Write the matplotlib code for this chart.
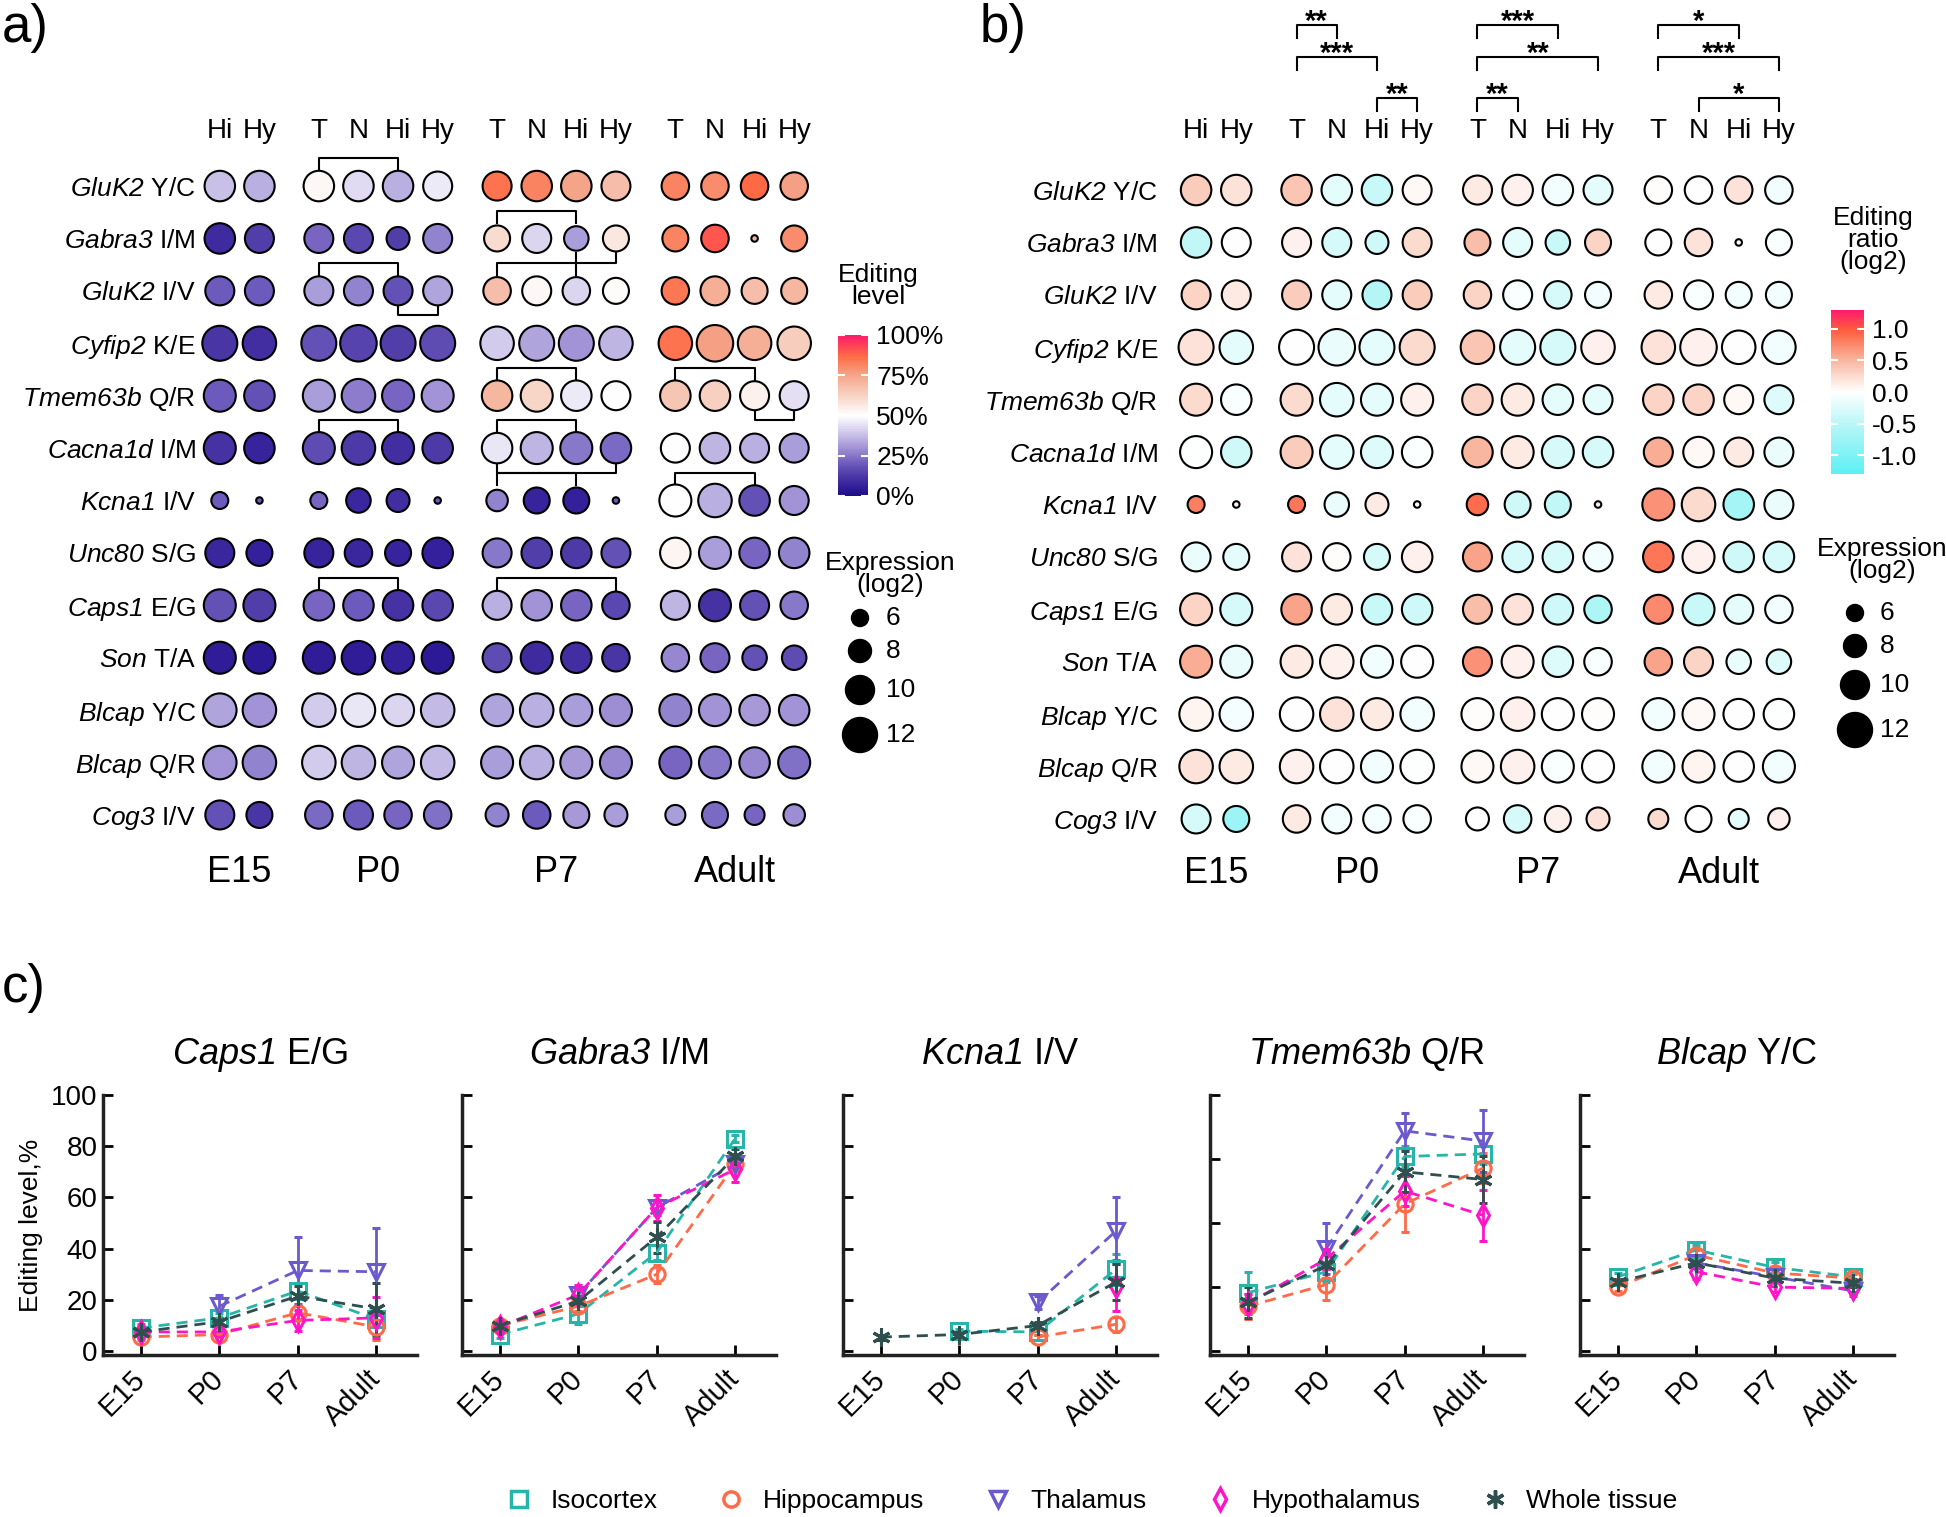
import numpy as np
import matplotlib.pyplot as plt
from matplotlib.colors import LinearSegmentedColormap
from matplotlib.lines import Line2D

plt.rcParams['font.family'] = 'Liberation Sans'
plt.rcParams['mathtext.fontset'] = 'custom'
plt.rcParams['mathtext.it'] = 'Liberation Sans:italic'
plt.rcParams['mathtext.rm'] = 'Liberation Sans:italic'

nan = np.nan

# ---- panels a/b data ----
genes = ['GluK2', 'Gabra3', 'GluK2', 'Cyfip2', 'Tmem63b', 'Cacna1d', 'Kcna1',
         'Unc80', 'Caps1', 'Son', 'Blcap', 'Blcap', 'Cog3']
sites = ['Y/C', 'I/M', 'I/V', 'K/E', 'Q/R', 'I/M', 'I/V',
         'S/G', 'E/G', 'T/A', 'Y/C', 'Q/R', 'I/V']
stages = ['E15', 'P0', 'P7', 'Adult']
stage_regions = [['Hi', 'Hy'], ['T', 'N', 'Hi', 'Hy'], ['T', 'N', 'Hi', 'Hy'], ['T', 'N', 'Hi', 'Hy']]

# expression (log2), columns: E15 Hi Hy | P0 T N Hi Hy | P7 T N Hi Hy | Adult T N Hi Hy
expression = [
    [10.5, 10.5, 10.5, 10.5, 10.5, 10, 10, 10.5, 10.5, 10, 9.5, 9.5, 9.5, 9.5],
    [10.5, 10, 10, 10, 8, 10, 9, 10, 8.5, 9, 9, 9.5, 2.5, 9],
    [10, 10, 10, 10, 10, 10, 9.5, 10, 9.5, 9, 9.5, 10, 9, 9],
    [12, 11.5, 12, 12.5, 12, 12, 11.5, 12, 12, 11.5, 11.5, 12.5, 11.5, 11.5],
    [11, 10.5, 11, 11.5, 11, 11, 10.5, 11, 10.5, 10, 10.5, 10.5, 10, 10],
    [11, 10.5, 11, 11.5, 11, 10.5, 10.5, 11, 11, 10.5, 10, 10.5, 10, 10],
    [6, 2.5, 6, 8.5, 8, 2.5, 7.5, 9, 9, 2.5, 11, 11.5, 10.5, 10],
    [10, 9, 10, 9.5, 9, 10.5, 10, 10.5, 10.5, 10, 10.5, 11, 10.5, 10.5],
    [11, 11, 10.5, 10.5, 10.5, 10.5, 10, 10.5, 10.5, 9.5, 10, 11, 10, 9.5],
    [11, 11, 11, 11.5, 11, 11, 10, 11, 10.5, 9.5, 9.5, 10, 8.5, 8.5],
    [11.5, 11.5, 11.5, 11.5, 11, 11.5, 11, 11.5, 11, 11, 11, 11, 10.5, 10.5],
    [11.5, 11.5, 11.5, 11.5, 11, 11.5, 11, 11.5, 11, 11, 11, 11, 10.5, 11],
    [10, 9, 9.5, 10, 9.5, 9.5, 8, 9.5, 9, 8, 7, 9, 7, 7.5],
]

# editing level (%)
editing_level = [
    [38, 35, 52, 43, 35, 46, 85, 82, 75, 68, 82, 80, 87, 76],
    [9, 14, 22, 16, 14, 27, 60, 42, 32, 57, 82, 90, 70, 80],
    [20, 20, 32, 27, 18, 33, 68, 52, 42, 51, 84, 72, 68, 70],
    [12, 10, 18, 15, 14, 17, 40, 33, 30, 36, 85, 76, 72, 64],
    [20, 18, 32, 26, 22, 30, 70, 62, 46, 50, 66, 63, 54, 44],
    [11, 7, 17, 13, 10, 13, 45, 36, 25, 23, 50, 36, 35, 32],
    [20, 20, 22, 8, 10, 20, 27, 7, 6, 20, 50, 35, 18, 30],
    [8, 6, 7, 8, 7, 6, 25, 14, 13, 18, 53, 32, 22, 27],
    [18, 14, 22, 20, 11, 16, 35, 30, 22, 16, 36, 11, 18, 25],
    [5, 4, 5, 5, 6, 4, 17, 9, 10, 12, 28, 22, 18, 17],
    [33, 30, 40, 45, 42, 37, 33, 35, 32, 29, 27, 30, 31, 30],
    [30, 27, 40, 36, 33, 37, 32, 35, 31, 28, 22, 25, 28, 24],
    [18, 12, 23, 20, 22, 24, 27, 20, 31, 32, 32, 23, 22, 29],
]

# editing ratio (log2)
editing_ratio = [
    [0.35, 0.2, 0.4, -0.2, -0.4, 0.05, 0.15, 0.1, -0.1, -0.2, 0.02, 0.0, 0.2, -0.1],
    [-0.45, 0.0, 0.1, -0.3, -0.35, 0.25, 0.45, -0.2, -0.4, 0.3, 0.0, 0.2, 0.0, -0.05],
    [0.3, 0.15, 0.35, -0.2, -0.55, 0.35, 0.3, -0.05, -0.3, -0.1, 0.15, -0.05, -0.1, -0.1],
    [0.2, -0.2, 0.0, -0.15, -0.2, 0.25, 0.4, -0.2, -0.3, 0.1, 0.2, 0.1, 0.0, -0.1],
    [0.25, -0.05, 0.25, -0.2, -0.2, 0.1, 0.3, 0.15, -0.2, -0.2, 0.3, 0.3, 0.05, -0.25],
    [-0.02, -0.35, 0.35, -0.2, -0.25, -0.03, 0.5, 0.15, -0.3, -0.3, 0.55, 0.05, 0.15, -0.15],
    [0.8, 0.1, 0.85, -0.15, 0.15, 0.0, 0.9, -0.35, -0.45, 0.1, 0.7, 0.25, -0.7, -0.15],
    [-0.15, -0.2, 0.2, 0.02, -0.3, 0.1, 0.6, -0.3, -0.3, -0.1, 0.85, 0.1, -0.35, -0.3],
    [0.3, -0.3, 0.6, 0.15, -0.4, -0.35, 0.45, 0.2, -0.35, -0.6, 0.75, -0.4, -0.2, -0.1],
    [0.55, -0.15, 0.15, 0.1, -0.1, 0.0, 0.7, 0.1, -0.25, -0.05, 0.6, 0.3, -0.15, -0.25],
    [0.08, -0.08, 0.0, 0.2, 0.15, -0.1, 0.02, 0.1, 0.0, 0.02, -0.1, 0.05, 0.0, -0.02],
    [0.2, 0.15, 0.1, 0.0, -0.1, -0.02, 0.05, 0.1, -0.05, 0.0, -0.1, 0.08, 0.0, -0.1],
    [-0.3, -0.75, 0.15, -0.1, -0.08, -0.05, 0.0, -0.3, 0.1, 0.2, 0.25, 0.0, -0.2, 0.1],
]

# significance brackets: (row, from col, to col, side)
a_brackets = [(0, 2, 4, 'up'), (1, 6, 8, 'up'), (1, 8, 9, 'down'),
              (2, 2, 4, 'up'), (2, 4, 5, 'down'), (2, 6, 8, 'up'),
              (4, 6, 8, 'up'), (4, 10, 12, 'up'), (4, 12, 13, 'down'),
              (5, 2, 4, 'up'), (5, 6, 8, 'up'), (5, 6, 9, 'down'),
              (6, 6, 8, 'up'), (6, 10, 12, 'up'),
              (8, 2, 4, 'up'), (8, 6, 9, 'up')]
# (from col, to col, level, stars)
b_brackets = [(2, 3, 1, '**'), (2, 4, 2, '***'), (4, 5, 3, '**'),
              (6, 8, 1, '***'), (6, 9, 2, '**'), (6, 7, 3, '**'),
              (10, 12, 1, '*'), (10, 13, 2, '***'), (11, 13, 3, '*')]

legend_expr = [6, 8, 10, 12]

# ---- panel c data ----
c_genes = ['Caps1', 'Gabra3', 'Kcna1', 'Tmem63b', 'Blcap']
c_sites = ['E/G', 'I/M', 'I/V', 'Q/R', 'Y/C']
c_ytick_step = [20, 20, 20, 25, 20]
regions = ['Isocortex', 'Hippocampus', 'Thalamus', 'Hypothalamus', 'Whole tissue']

iso_mean = [[9, 13, 23.5, 12.5], [6.5, 14.5, 38.5, 83], [nan, 7.8, 7.5, 32], [22.8, 31, 76, 77], [29, 39.5, 32.7, 29]]
iso_err = [[1.5, 2, 3, 2], [1.5, 4, 3, 1.5], [nan, 1, 1, 6], [8, 4, 4, 4], [1.5, 2, 2, 1.5]]
hippo_mean = [[5.5, 6.5, 15, 9.5], [10, 17.5, 30, 73], [nan, nan, 5.5, 10.5], [17.5, 26, 57.5, 71.5], [25, 37.5, 30.5, 28.5]]
hippo_err = [[1, 1, 2.5, 5], [1, 2, 3.5, 2], [nan, nan, 1, 3], [5, 6, 11, 6], [1.5, 2, 2, 1.5]]
thal_mean = [[nan, 17.5, 31.5, 31], [nan, 22, 56, 73], [nan, nan, 19, 47], [nan, 40, 86, 82], [nan, 34.5, 29, 23.5]]
thal_err = [[nan, 4.5, 13, 17], [nan, 3, 3, 2], [nan, nan, 2.5, 13], [nan, 10, 7, 12], [nan, 2, 2, 2]]
hypo_mean = [[7.5, 7.5, 12, 13], [9.5, 22, 56, 71], [nan, nan, nan, 25.5], [18.5, 36, 62.5, 53], [nan, 31, 25, 24.5]]
hypo_err = [[1, 1.5, 4, 8], [1, 4, 5, 5], [nan, nan, nan, 10], [4, 4, 6, 10], [nan, 3, 2, 1.5]]
whole_mean = [[7.5, 11.5, 21.5, 16.5], [10, 19.5, 44.5, 76], [5.5, 6.5, 10, 27], [19, 33.5, 70, 67], [27, 34.5, 28.5, 26.5]]
whole_err = [[1, 1.5, 4, 10], [1, 2, 6, 3], [1, 1, 1.5, 7], [6, 5, 8, 9], [1, 2, 1.5, 1.5]]

# ---- figure ----
W, H = 1946, 1517
fig = plt.figure(figsize=(W / 100, H / 100), dpi=100)


def px_axes(left, top, right, bottom):
    return fig.add_axes([left / W, 1 - bottom / H, (right - left) / W, (bottom - top) / H])


def dot_area(e):
    d = (3 * np.asarray(e, float) - 1) * 0.72
    return d ** 2


level_cmap = LinearSegmentedColormap.from_list('level', [
    (0.0, '#1c0c88'), (0.05, '#311d98'), (0.12, '#4a36a4'), (0.2, '#6c5abc'),
    (0.3, '#a294d6'), (0.4, '#d2cbec'), (0.5, '#ffffff'), (0.6, '#f8dcd0'),
    (0.75, '#f4a58a'), (0.87, '#ff6a45'), (1.0, '#ff1a6a')])
ratio_cmap = LinearSegmentedColormap.from_list('ratio', [
    (0.0, '#5cf0f4'), (0.3, '#b8f6f6'), (0.5, '#ffffff'), (0.7, '#f8b49c'),
    (0.88, '#ff5c3c'), (1.0, '#ff1a6e')])

col_x, col_names, group_centers = [], [], []
for g, regs in enumerate(stage_regions):
    start = g * 4.5 + 4 - len(regs)
    xs = [start + k for k in range(len(regs))]
    col_x += xs
    col_names += regs
    group_centers.append(np.mean(xs))
col_x = np.array(col_x)

row_labels = [r'$\mathit{%s}$ %s' % (g, s) for g, s in zip(genes, sites)]


def dot_panel(ax, values, cmap, vmin, vmax, label_pad, header_y, stage_y):
    xx, yy = np.meshgrid(col_x, np.arange(len(genes)))
    sc = ax.scatter(xx.ravel(), yy.ravel(), s=dot_area(expression).ravel(),
                    c=np.asarray(values, float).ravel(), cmap=cmap, vmin=vmin, vmax=vmax,
                    edgecolors='black', linewidths=1.5, zorder=3, clip_on=False)
    ax.set_xlim(1.5, 17.0)
    ax.set_ylim(12.6, -0.6)
    ax.set_yticks(range(len(genes)))
    ax.set_yticklabels(row_labels, fontsize=19)
    ax.set_xticks([])
    ax.tick_params(axis='y', length=0, pad=label_pad)
    for sp in ax.spines.values():
        sp.set_visible(False)
    for x, n in zip(col_x, col_names):
        ax.text(x, header_y, n, ha='center', va='center', fontsize=20)
    for x, st in zip(group_centers, stages):
        ax.text(x, stage_y, st, ha='center', va='center', fontsize=26)
    return sc


# panel a
ax_a = px_axes(200, 154.6, 814, 846.4)
sc_a = dot_panel(ax_a, editing_level, level_cmap, 0, 100, 3, -1.05, 13.1)
for row, c0, c1, side in a_brackets:
    x0, x1 = col_x[c0], col_x[c1]
    if side == 'up':
        yb, yt = row - 0.3, row - 0.53
    else:
        yb, yt = row + 0.27, row + 0.47
    ax_a.plot([x0, x0, x1, x1], [yb, yt, yt, yb], color='black', lw=1.5, clip_on=False)

# panel b
ax_b = px_axes(1176, 158.6, 1799, 850.4)
sc_b = dot_panel(ax_b, editing_ratio, ratio_cmap, -1.3, 1.3, 13, -1.12, 13.05)
level_y = {1: -3.15, 2: -2.54, 3: -1.76}
for c0, c1, lev, stars in b_brackets:
    x0, x1 = col_x[c0], col_x[c1]
    y = level_y[lev]
    ax_b.plot([x0, x0, x1, x1], [y + 0.25, y, y, y + 0.25], color='black', lw=1.5, clip_on=False)
    ax_b.text((x0 + x1) / 2, y - 0.05, stars, ha='center', va='center', fontsize=21,
              fontweight='bold')

# colorbars
cax_a = px_axes(838, 335, 868, 496)
cb_a = fig.colorbar(sc_a, cax=cax_a, ticks=[0, 25, 50, 75, 100])
cb_a.ax.set_yticklabels(['0%', '25%', '50%', '75%', '100%'], fontsize=19)
cax_b = px_axes(1831, 310, 1864, 474)
cb_b = fig.colorbar(sc_b, cax=cax_b, ticks=[-1, -0.5, 0, 0.5, 1])
cb_b.ax.set_yticklabels(['-1.0', '-0.5', '0.0', '0.5', '1.0'], fontsize=19)
for cb in (cb_a, cb_b):
    cb.outline.set_visible(False)
    cb.ax.tick_params(color='white', direction='in', length=5, width=1.5,
                      left=True, right=True, pad=6)

# overlay in pixel coordinates for legend texts and panel letters
ov = fig.add_axes([0, 0, 1, 1])
ov.set_xlim(0, W)
ov.set_ylim(H, 0)
ov.axis('off')

ov.text(878, 286, 'Editing\nlevel', ha='center', va='center', fontsize=19, linespacing=0.9)
ov.text(890, 574, 'Expression\n(log2)', ha='center', va='center', fontsize=19, linespacing=0.9)
ov.text(1873, 240, 'Editing\nratio\n(log2)', ha='center', va='center', fontsize=19, linespacing=0.9)
ov.text(1882, 560, 'Expression\n(log2)', ha='center', va='center', fontsize=19, linespacing=0.9)


def legend_dots(x, y0, xt):
    d = 3 * np.array(legend_expr, float) - 1
    ys = y0 + np.concatenate([[0], np.cumsum((d[:-1] + d[1:]) / 2 + 13)])
    ov.scatter(np.full(len(ys), x), ys, s=dot_area(legend_expr), c='black')
    for y, e in zip(ys, legend_expr):
        ov.text(xt, y, str(e), ha='left', va='center', fontsize=19)


legend_dots(860, 618, 886)
legend_dots(1855, 613, 1880)

ov.text(2, 28, 'a)', fontsize=38, va='center', ha='left')
ov.text(980, 28, 'b)', fontsize=38, va='center', ha='left')
ov.text(2, 988, 'c)', fontsize=38, va='center', ha='left')

# panel c
styles = [
    ('#26b5a8', 's', iso_mean, iso_err, 11),
    ('#ff6a48', 'o', hippo_mean, hippo_err, 11),
    ('#6a5acd', 'v', thal_mean, thal_err, 11),
    ('#ff14c8', 'd', hypo_mean, hypo_err, 11),
    ('#2f4f4f', (6, 2, 0), whole_mean, whole_err, 13),
]
c_left = [103, 462, 843, 1210, 1580]
stage_x = np.arange(len(stages))
for i, left in enumerate(c_left):
    ax = px_axes(left, 1095, left + 314, 1355)
    for color, marker, mean, err, ms in styles:
        ax.errorbar(stage_x, mean[i], yerr=err[i], color=color, marker=marker, ms=ms,
                    mfc='none', mew=2.2, ls=(0, (4, 2.5)), lw=2, elinewidth=2, capsize=3,
                    capthick=2)
    ax.set_xlim(-0.48, 3.52)
    ax.set_ylim(-1.5, 100)
    ax.set_yticks(np.arange(0, 101, c_ytick_step[i]))
    ax.set_xticks(stage_x)
    ax.set_xticklabels(stages, rotation=45, ha='right', va='center', rotation_mode='anchor',
                       fontsize=21)
    ax.tick_params(direction='in', length=7, width=2, pad=14)
    ax.tick_params(axis='y', pad=4, labelsize=20)
    if i == 0:
        ax.set_ylabel('Editing level,%', fontsize=19, labelpad=6)
    else:
        ax.set_yticklabels([])
    for sp in ['top', 'right']:
        ax.spines[sp].set_visible(False)
    for sp in ['left', 'bottom']:
        ax.spines[sp].set_linewidth(2.5)
        ax.spines[sp].set_color('#222222')
    ax.set_title(r'$\mathit{%s}$ %s' % (c_genes[i], c_sites[i]), fontsize=26, pad=22)

handles = [Line2D([], [], color=color, marker=marker, ls='none', ms=ms, mfc='none', mew=2.5)
           for color, marker, _, _, ms in styles]
fig.legend(handles, regions, loc='center', bbox_to_anchor=(0.561, 0.0105), ncol=5,
           frameon=False, fontsize=19, handlelength=1.0, handletextpad=0.7, columnspacing=2.3)

fig.savefig('out.png', dpi=100)
